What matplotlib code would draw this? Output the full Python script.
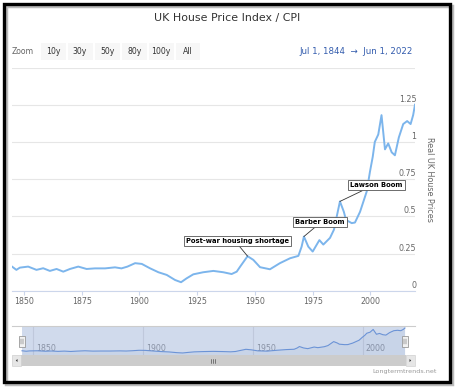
import numpy as np
import matplotlib
matplotlib.use("Agg")
import matplotlib.pyplot as plt
from matplotlib.patches import Rectangle, Polygon
from matplotlib.lines import Line2D

# data (real UK house price index / CPI)
years = [1844.8, 1846.7, 1848.2, 1851.8, 1855.4, 1858.3, 1861.2, 1864.1, 1867.0, 1869.9,
         1873.5, 1877.1, 1880.7, 1885.1, 1889.4, 1892.2, 1894.8, 1898.1, 1901.0, 1904.5,
         1908.2, 1911.8, 1915.4, 1918.0, 1920.4, 1923.3, 1927.6, 1932.0, 1936.3, 1939.9,
         1942.1, 1943.6, 1946.8, 1949.3, 1952.2, 1956.5, 1960.8, 1965.2, 1968.8, 1970.2,
         1971.2, 1973.1, 1975.0, 1977.9, 1979.6, 1982.5, 1984.2, 1986.8, 1988.5, 1989.4,
         1991.9, 1993.3, 1995.5, 1998.4, 1999.8, 2001.0, 2001.9, 2003.4, 2004.8, 2006.3,
         2007.7, 2009.2, 2010.6, 2012.3, 2014.2, 2015.9, 2017.4, 2018.5, 2019.3]
prices = [0.162, 0.140, 0.155, 0.162, 0.140, 0.151, 0.133, 0.146, 0.128, 0.146,
          0.162, 0.146, 0.150, 0.150, 0.157, 0.150, 0.162, 0.185, 0.180, 0.151,
          0.124, 0.106, 0.072, 0.057, 0.083, 0.110, 0.124, 0.133, 0.124, 0.112,
          0.128, 0.162, 0.232, 0.207, 0.158, 0.144, 0.185, 0.218, 0.234, 0.296,
          0.364, 0.296, 0.263, 0.340, 0.310, 0.355, 0.410, 0.600, 0.530, 0.476,
          0.454, 0.458, 0.530, 0.667, 0.800, 0.900, 1.000, 1.050, 1.180, 0.950,
          0.990, 0.930, 0.910, 1.030, 1.120, 1.140, 1.120, 1.180, 1.250]

x_ticks = [1850, 1875, 1900, 1925, 1950, 1975, 2000]
y_ticks = [0, 0.25, 0.5, 0.75, 1, 1.25]
y_labels = ['0', '0.25', '0.5', '0.75', '1', '1.25']
nav_ticks = [1850, 1900, 1950, 2000]

notes = ['Post-war housing shortage', 'Barber Boom', 'Lawson Boom']
note_points = [(1946.8, 0.232), (1971.2, 0.364), (1986.8, 0.600)]
note_boxes = [(1942.4, 0.335), (1978.1, 0.46), (2002.6, 0.709)]
note_anchor = [0.5, 0.45, 0.33]

W, H = 455, 387
fig = plt.figure(figsize=(W / 100, H / 100), dpi=100)
fig.patch.set_facecolor('white')


def px(x0, y0, x1, y1):
    return [x0 / W, 1 - y1 / H, (x1 - x0) / W, (y1 - y0) / H]


def frect(x0, y0, x1, y1, **kw):
    r = Rectangle((x0 / W, 1 - y1 / H), (x1 - x0) / W, (y1 - y0) / H,
                  transform=fig.transFigure, **kw)
    fig.add_artist(r)
    return r


def ftext(x, y, s, **kw):
    fig.text(x / W, 1 - y / H, s, **kw)


# main chart
ax = fig.add_axes(px(12, 67.5, 415, 290.7))
ax.plot(years, prices, color='#7cb5ec', lw=1.4, zorder=3)
ax.set_xlim(1844.8, 2019.3)
ax.set_ylim(0, 1.5)
ax.set_yticks(np.arange(0, 1.51, 0.25))
ax.yaxis.set_tick_params(length=0, labelleft=False)
ax.grid(axis='y', color='#e6e6e6', lw=0.8)
ax.set_axisbelow(True)
for s in ['top', 'left', 'right']:
    ax.spines[s].set_visible(False)
ax.spines['bottom'].set_color('#ccd6eb')
ax.spines['bottom'].set_linewidth(0.8)
ax.set_xticks(x_ticks)
ax.set_xticklabels([str(t) for t in x_ticks])
ax.tick_params(axis='x', colors='#ccd6eb', length=3, width=0.8, labelsize=5.7,
               labelcolor='#666666', pad=1.5)
for v, lab in zip(y_ticks, y_labels):
    ax.text(1.003, v + 0.006, lab, transform=ax.get_yaxis_transform(),
            ha='right', va='bottom', fontsize=5.7, color='#666666')
ax.text(1.035, 0.5, 'Real UK House Prices', transform=ax.transAxes, rotation=270,
        ha='center', va='center', fontsize=5.8, color='#666666')

for txt, pt, bx, rp in zip(notes, note_points, note_boxes, note_anchor):
    ax.annotate(txt, xy=pt, xytext=bx, ha='center', va='center', fontsize=4.9,
                fontweight='bold', color='black', zorder=5,
                bbox=dict(boxstyle='square,pad=0.33', fc='white', ec='#555555', lw=0.6),
                arrowprops=dict(arrowstyle='-', color='#333333', lw=0.6,
                                shrinkA=0, shrinkB=0, relpos=(rp, 0)))

# title and range selector
ftext(227.5, 17.5, 'UK House Price Index / CPI', ha='center', va='center',
      fontsize=7.9, color='#333333')
ftext(12, 51, 'Zoom', ha='left', va='center', fontsize=5.6, color='#666666')
buttons = ['10y', '30y', '50y', '80y', '100y', 'All']
bx0 = [40.5, 67.5, 95, 122, 148.5, 176]
bw = [25, 25, 25, 25, 25.5, 24]
for b, x0, w in zip(buttons, bx0, bw):
    frect(x0, 42.5, x0 + w, 59.5, fc='#f7f7f7', ec='none')
    ftext(x0 + w / 2, 51, b, ha='center', va='center', fontsize=5.6, color='#333333')
ftext(413, 51, 'Jul 1, 1844  \u2192  Jun 1, 2022', ha='right', va='center',
      fontsize=6.2, color='#335cad')

# navigator
nav = fig.add_axes(px(12, 326, 415, 355))
nav.set_xlim(1840.24, 2023.86)
nav.set_ylim(-0.04, 1.345)
nav.axis('off')
for t in nav_ticks:
    nav.axvline(t, color='#e6e6e6', lw=0.8, zorder=1)
    nav.text(t + 1.4, 0.25, str(t), ha='left', va='center', fontsize=5.7,
             color='#999999', zorder=1)
nav.axvspan(years[0], years[-1], color=(102 / 255, 133 / 255, 194 / 255),
            alpha=0.3, lw=0, zorder=2)
nav.fill_between(years, prices, -0.04, color='#4572a7', alpha=0.05, lw=0, zorder=3)
nav.plot(years, prices, color='#6b93d6', lw=0.8, zorder=3)
fig.add_artist(Line2D([12 / W, 415 / W], [1 - 326 / H, 1 - 326 / H],
                      transform=fig.transFigure, color='#cccccc', lw=0.8))

# navigator handles
for hx in [21.5, 405]:
    frect(hx - 3, 335.5, hx + 3, 346.5, fc='#f2f2f2', ec='#999999', lw=0.6, zorder=6)
    for dx in [-1, 1]:
        fig.add_artist(Line2D([(hx + dx) / W] * 2, [1 - 338.5 / H, 1 - 343.5 / H],
                              transform=fig.transFigure, color='#333333', lw=0.3,
                              zorder=7))

# scrollbar
frect(12, 355, 415, 366, fc='#f2f2f2', ec='none')
frect(21, 355, 406, 366, fc='#cccccc', ec='none')
for x0, x1 in [(12, 21), (406, 415)]:
    frect(x0, 355, x1, 366, fc='#e6e6e6', ec='#cccccc', lw=0.4)
fig.add_artist(Polygon([(15.8 / W, 1 - 360.5 / H), (17.5 / W, 1 - 359 / H),
                        (17.5 / W, 1 - 362 / H)], closed=True,
                       transform=fig.transFigure, fc='#333333', ec='none'))
fig.add_artist(Polygon([(411.2 / W, 1 - 360.5 / H), (409.5 / W, 1 - 359 / H),
                        (409.5 / W, 1 - 362 / H)], closed=True,
                       transform=fig.transFigure, fc='#333333', ec='none'))
for gx in [211, 213, 215]:
    fig.add_artist(Line2D([gx / W] * 2, [1 - 358.5 / H, 1 - 362.5 / H],
                          transform=fig.transFigure, color='#333333', lw=0.4))

ftext(437, 371.5, 'Longtermtrends.net', ha='right', va='center', fontsize=4.6,
      color='#999999')

# screenshot frame with shadow
frect(5.5, 5.5, 451.5, 383.5, fc='none', ec='#bbbbbb', lw=2.5, zorder=9)
frect(3.5, 3.5, 449.5, 381.5, fc='none', ec='black', lw=2.4, zorder=10)

fig.savefig('out.png', dpi=100, facecolor='white')
